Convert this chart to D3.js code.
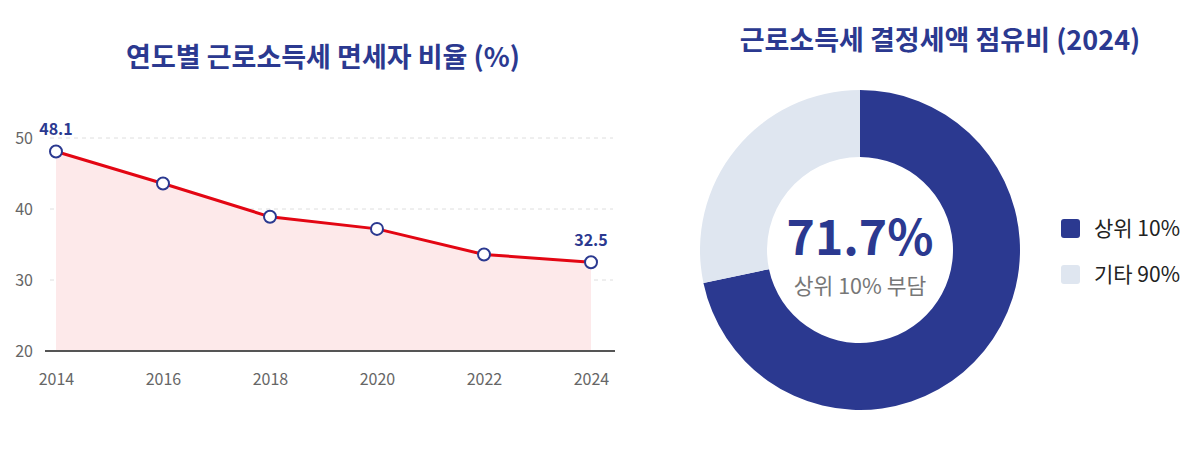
<!DOCTYPE html>
<html>
<head>
<meta charset="utf-8">
<script src="https://cdn.jsdelivr.net/npm/d3@7"></script>
<style>
  body { margin: 0; background: #fff; font-family: "Noto Sans CJK KR", "Noto Sans", sans-serif; }
</style>
</head>
<body>
<svg id="chart"></svg>
<script>
const years = [2014, 2016, 2018, 2020, 2022, 2024];
const exemptRates = [48.1, 43.6, 38.9, 37.2, 33.6, 32.5];
const yTicks = [20, 30, 40, 50];
const shareLabels = ['상위 10%', '기타 90%'];
const shareValues = [71.7, 28.3];

const navy = '#2b3990';
const W = 1198, H = 455;

const svg = d3.select('#chart').attr('width', W).attr('height', H);

// ---- line chart ----
const x = d3.scalePoint().domain(years).range([56, 591]);
const y = d3.scaleLinear().domain([20, 50]).range([351, 138]);

svg.append('text')
  .attr('x', 323).attr('y', 67)
  .attr('text-anchor', 'middle')
  .attr('fill', navy)
  .style('font-size', '27px').style('font-weight', 700)
  .text('연도별 근로소득세 면세자 비율 (%)');

const grid = svg.append('g');
grid.selectAll('line')
  .data(yTicks.filter(d => d > 20))
  .enter().append('line')
  .attr('x1', 50).attr('x2', 613)
  .attr('y1', d => y(d)).attr('y2', d => y(d))
  .attr('stroke', '#dedede')
  .attr('stroke-dasharray', '4,4');

const yAxis = svg.append('g')
  .attr('transform', 'translate(33,0)')
  .call(d3.axisLeft(y).tickValues(yTicks).tickSize(0).tickPadding(0));
yAxis.select('.domain').remove();
yAxis.selectAll('text')
  .attr('fill', '#666')
  .style('font-size', '16px')
  .style('font-family', '"Noto Sans CJK KR", sans-serif');

const area = d3.area()
  .x((d, i) => x(years[i]))
  .y0(y(20))
  .y1(d => y(d));

svg.append('path')
  .datum(exemptRates)
  .attr('fill', '#fde9ea')
  .attr('d', area);

const xAxis = svg.append('g')
  .attr('transform', `translate(0,${y(20)})`)
  .call(d3.axisBottom(x).tickSize(0).tickPadding(23));
xAxis.select('.domain').remove();
xAxis.selectAll('text')
  .attr('fill', '#666')
  .style('font-size', '16px')
  .style('font-family', '"Noto Sans CJK KR", sans-serif');

svg.append('line')
  .attr('x1', 45).attr('x2', 615)
  .attr('y1', y(20)).attr('y2', y(20))
  .attr('stroke', '#555').attr('stroke-width', 2);

const line = d3.line()
  .x((d, i) => x(years[i]))
  .y(d => y(d));

svg.append('path')
  .datum(exemptRates)
  .attr('fill', 'none')
  .attr('stroke', '#e30613')
  .attr('stroke-width', 3)
  .attr('d', line);

svg.selectAll('circle.pt')
  .data(exemptRates)
  .enter().append('circle')
  .attr('class', 'pt')
  .attr('cx', (d, i) => x(years[i]))
  .attr('cy', d => y(d))
  .attr('r', 6)
  .attr('fill', '#fff')
  .attr('stroke', navy)
  .attr('stroke-width', 2);

svg.selectAll('text.val')
  .data(exemptRates.map((v, i) => ({ v, i })).filter(d => d.i === 0 || d.i === years.length - 1))
  .enter().append('text')
  .attr('class', 'val')
  .attr('x', d => x(years[d.i]))
  .attr('y', d => y(d.v) - 16)
  .attr('text-anchor', 'middle')
  .attr('fill', navy)
  .style('font-size', '16px').style('font-weight', 700)
  .text(d => d.v.toFixed(1));

// ---- donut ----
svg.append('text')
  .attr('x', 940).attr('y', 50)
  .attr('text-anchor', 'middle')
  .attr('fill', navy)
  .style('font-size', '27px').style('font-weight', 700)
  .text('근로소득세 결정세액 점유비 (2024)');

const color = d3.scaleOrdinal().domain(shareLabels).range([navy, '#dfe6f0']);
const pie = d3.pie().sort(null)(shareValues);
const arc = d3.arc().innerRadius(93).outerRadius(160);

const donut = svg.append('g').attr('transform', 'translate(860,250)');
donut.selectAll('path')
  .data(pie)
  .enter().append('path')
  .attr('d', arc)
  .attr('fill', (d, i) => color(shareLabels[i]));

donut.append('text')
  .attr('y', 5)
  .attr('text-anchor', 'middle')
  .attr('fill', navy)
  .style('font-size', '48px').style('font-weight', 700)
  .text(shareValues[0] + '%');

donut.append('text')
  .attr('y', 44)
  .attr('text-anchor', 'middle')
  .attr('fill', '#777')
  .style('font-size', '21.5px')
  .text('상위 10% 부담');

const legend = svg.append('g').attr('transform', 'translate(1061,219)');
const items = legend.selectAll('g')
  .data(shareLabels)
  .enter().append('g')
  .attr('transform', (d, i) => `translate(0,${i * 46})`);
items.append('rect')
  .attr('width', 19).attr('height', 19).attr('rx', 3)
  .attr('fill', d => color(d));
items.append('text')
  .attr('x', 33).attr('y', 17)
  .attr('fill', '#222')
  .style('font-size', '21px')
  .text(d => d);
</script>
</body>
</html>
